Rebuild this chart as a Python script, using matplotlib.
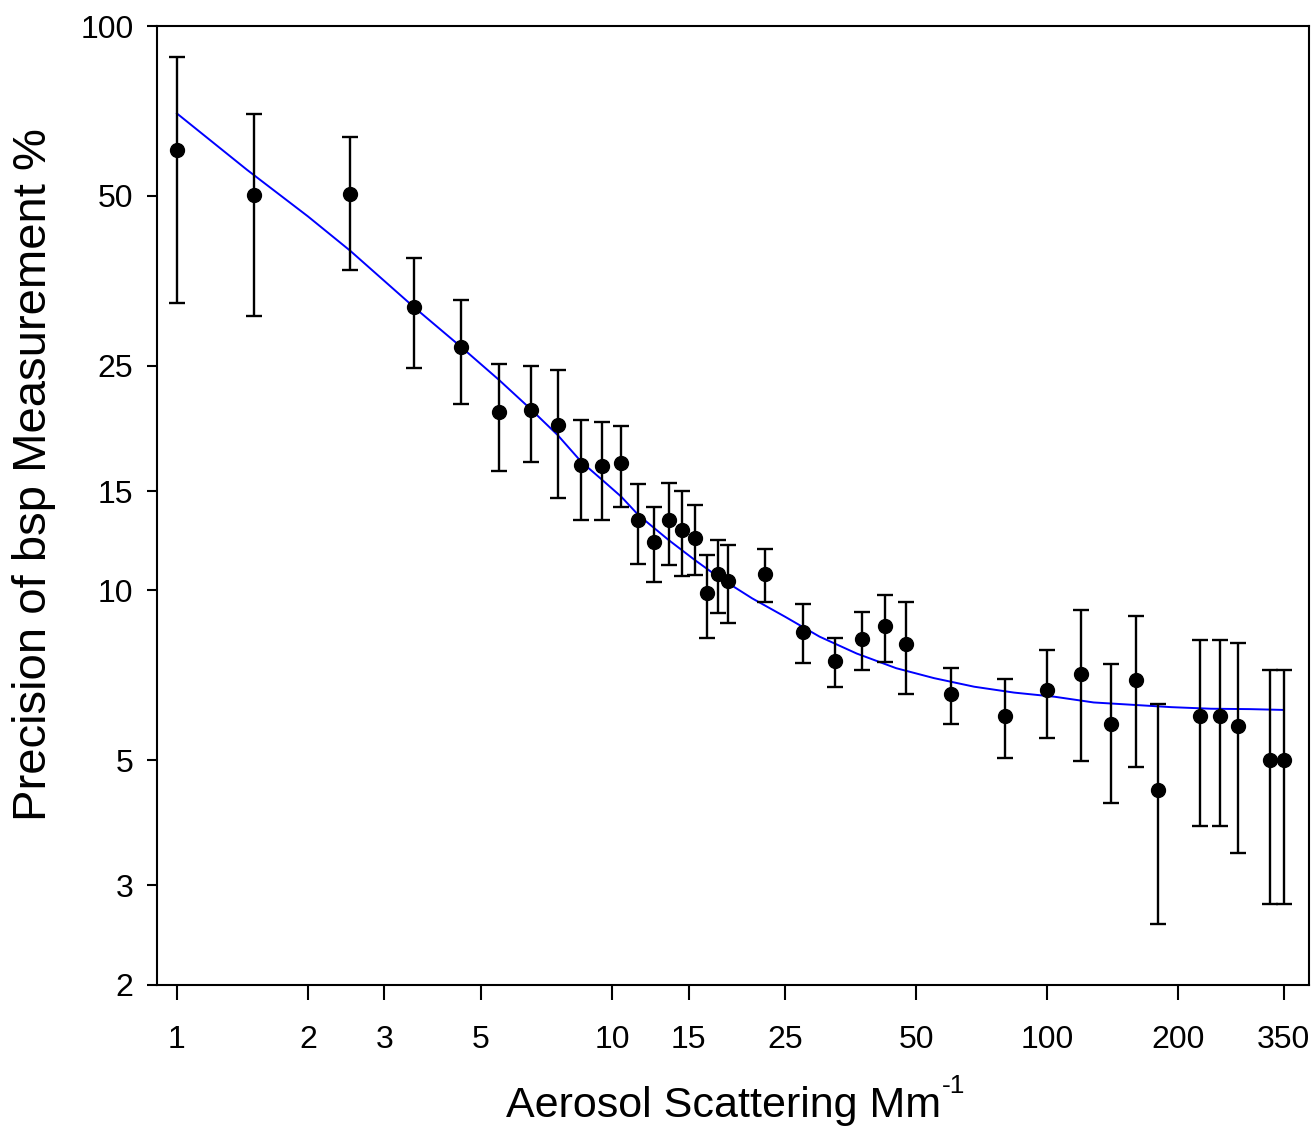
import matplotlib
matplotlib.use("Agg")
import matplotlib.pyplot as plt
from matplotlib.ticker import FixedLocator, NullLocator

plt.rcParams['font.family'] = ['Liberation Sans', 'DejaVu Sans']

# measured points: scattering (Mm-1), precision (%), error (%)
scatter = [1, 1.5, 2.5, 3.5, 4.5, 5.5, 6.5, 7.5, 8.5, 9.5, 10.5, 11.5, 12.5, 13.5,
           14.5, 15.5, 16.5, 17.5, 18.5, 22.5, 27.5, 32.5, 37.5, 42.5, 47.5, 60,
           80, 100, 120, 140, 160, 180, 225, 250, 275, 325, 350]
precision = [60.3, 50.2, 50.3, 31.8, 27.0, 20.7, 20.9, 19.6, 16.7, 16.6, 16.8, 13.3,
             12.2, 13.3, 12.8, 12.4, 9.9, 10.7, 10.4, 10.7, 8.45, 7.5, 8.2, 8.65, 8.04,
             6.55, 6.0, 6.66, 7.11, 5.8, 6.94, 4.43, 6.0, 6.0, 5.75, 5.0, 5.0]
error = [28.0, 19.6, 13.3, 7.0, 5.65, 4.45, 4.05, 5.0, 3.35, 3.3, 2.75, 2.15,
         1.85, 2.2, 2.2, 1.75, 1.65, 1.57, 1.65, 1.15, 1.0, 0.75, 0.97, 1.17, 1.5,
         0.75, 0.96, 1.18, 2.13, 1.6, 2.07, 1.87, 2.18, 2.18, 2.33, 2.22, 2.22]

# fitted curve
fit_x = [1, 1.45, 2, 2.5, 3.5, 4.5, 5.5, 6.5, 7.5, 8.5, 9.5, 10.5, 11.5, 13.5, 15.5,
         17.5, 21, 25, 30, 36.5, 45, 55, 68, 84, 104, 128, 157, 193, 238, 293, 350]
fit_y = [70.0, 55.6, 46.0, 40.0, 31.8, 27.0, 23.6, 20.96, 18.85, 16.9, 15.69, 14.66,
         13.6, 12.28, 11.32, 10.58, 9.68, 8.98, 8.28, 7.73, 7.28, 6.99, 6.75, 6.59,
         6.48, 6.33, 6.27, 6.21, 6.17, 6.16, 6.14]

xticks = [1, 2, 3, 5, 10, 15, 25, 50, 100, 200, 350]
yticks = [2, 3, 5, 10, 15, 25, 50, 100]

fig = plt.figure(figsize=(13.15, 11.32), dpi=100)
ax = fig.add_axes([0.1194, 0.13, 0.876, 0.847])

ax.plot(fit_x, fit_y, color='#0000ff', lw=1.4, zorder=2)
ax.errorbar(scatter, precision, yerr=error, fmt='o', color='black', ms=10,
            elinewidth=1.7, capsize=6, capthick=1.7, zorder=3)

ax.set_xscale('log')
ax.set_yscale('log')
ax.set_xlim(0.9, 400)
ax.set_ylim(2, 100)

ax.xaxis.set_major_locator(FixedLocator(xticks))
ax.xaxis.set_minor_locator(NullLocator())
ax.set_xticklabels([str(t) for t in xticks])
ax.yaxis.set_major_locator(FixedLocator(yticks))
ax.yaxis.set_minor_locator(NullLocator())
ax.set_yticklabels([str(t) for t in yticks])

ax.tick_params(axis='x', direction='out', length=11, width=1.5, pad=18, labelsize=23)
ax.tick_params(axis='y', direction='out', length=7, width=1.5, pad=10, labelsize=23)
for s in ax.spines.values():
    s.set_linewidth(1.5)

xl = ax.set_xlabel('Aerosol Scattering Mm', fontsize=31, labelpad=22)
xl.set_x(0.492)
ax.set_ylabel('Precision of bsp Measurement %', fontsize=34)
ax.yaxis.set_label_coords(-0.0877, 0.532)

# superscript "-1" drawn as its own text after the x label
fig.canvas.draw()
bb = xl.get_window_extent()
fig.text((bb.x1 + 1) / fig.bbox.width, (bb.y1 + 12) / fig.bbox.height, '-1',
         fontsize=19, ha='left', va='top')

fig.savefig('out.png', dpi=100)
